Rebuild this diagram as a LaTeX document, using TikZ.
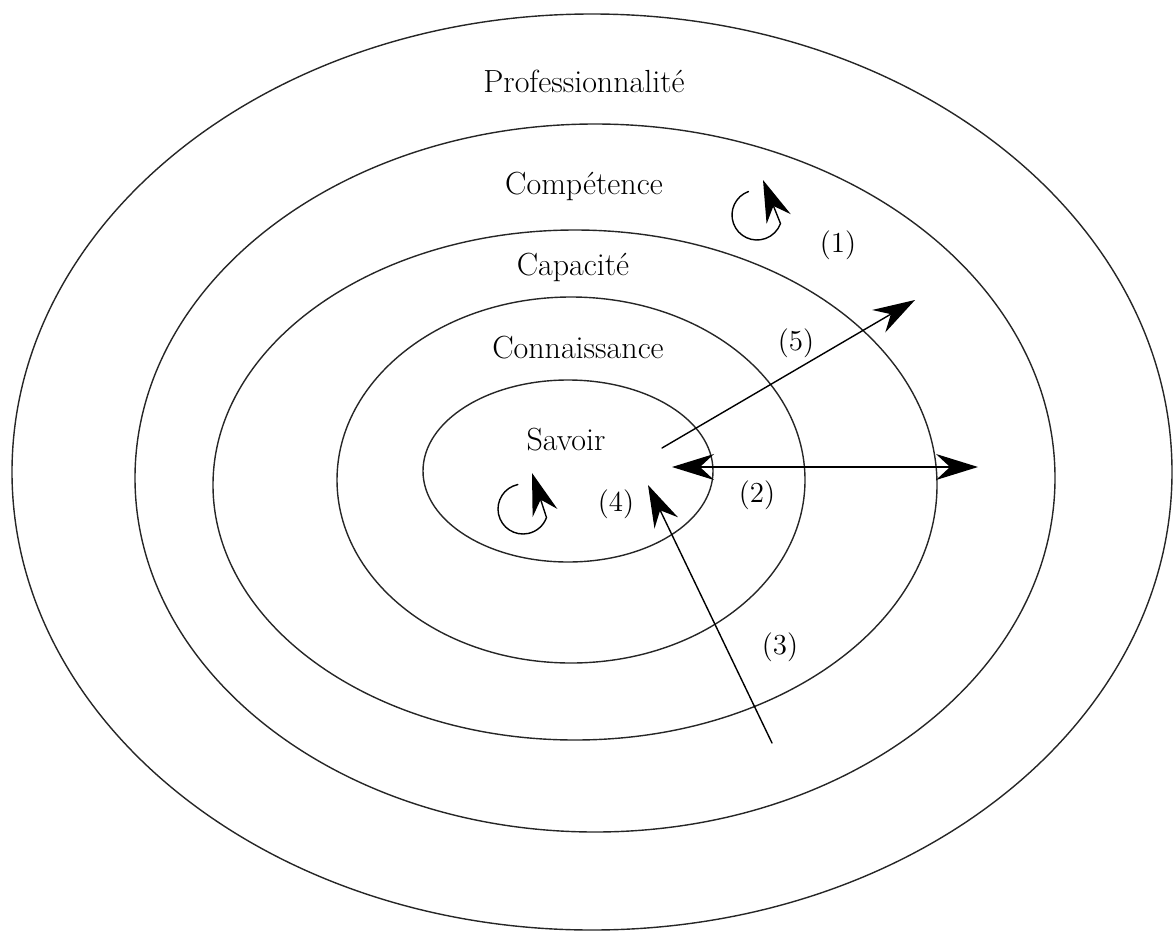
\documentclass[tikz,border=0pt]{standalone}
\usepackage{tikz}
\usetikzlibrary{
    arrows.meta, % Stealth heads on the arrows.
}

\begin{document}
\begin{tikzpicture}[%
        x = 0.5pt,
        y = 0.5pt,
        line width = 0.7pt,
        line cap = round,
        > = {Stealth[length = 21pt, width = 13pt, inset = 7pt]},
        level/.style = {font = \fontsize{16}{19}\selectfont, anchor = base, inner sep = 0pt},
        tag/.style = {font = \fontsize{14.5}{17}\selectfont, anchor = base, inner sep = 0pt}
    ]

        % Fix the page to the size of the figure.
        \useasboundingbox (0, 0) rectangle (1176, -931);

        % Draw in the nested ellipses, outside first.
        \draw[black!85] (592, -472) ellipse [x radius = 580, y radius = 458];
        \draw[black!85] (595, -478) ellipse [x radius = 460, y radius = 354];
        \draw[black!85] (575, -485) ellipse [x radius = 362, y radius = 255];
        \draw[black!85] (571, -480) ellipse [x radius = 234, y radius = 183];
        \draw[black!85] (568, -471) ellipse [x radius = 145, y radius = 91];

        % Label each of the rings.
        \node[level] (prof) at (584, -93) {Professionnalité};
        \node[level] (comp) at (584, -194) {Compétence};
        \node[level] (capa) at (573, -275) {Capacité};
        \node[level] (conn) at (578, -358) {Connaissance};
        \node[level] (sav) at (566, -450) {Savoir};

        % Label the arrows.
        \node[tag] (t1) at (838, -252) {(1)};
        \node[tag] (t2) at (757, -502) {(2)};
        \node[tag] (t3) at (780, -654) {(3)};
        \node[tag] (t4) at (616, -511) {(4)};
        \node[tag] (t5) at (796, -350) {(5)};

        % Coordinates for the ends of the arrows.
        \coordinate (A) at (662, -448);
        \coordinate (B) at (915, -300);
        \coordinate (C) at (672, -467);
        \coordinate (D) at (978, -467);
        \coordinate (E) at (772, -743);
        \coordinate (F) at (648, -485);
        \coordinate (G) at (763, -180);
        \coordinate (H) at (532, -473);

        % Draw in the straight arrows.
        \draw[->] (A) to (B);
        \draw[<->] (C) to (D);
        \draw[->] (E) to (F);

        % Draw in the two loops.
        \draw[->] (757, -215) ++(110:25) arc [start angle = 110, end angle = 340, radius = 25] -- (G);
        \draw[->] (523, -509) ++(102:25) arc [start angle = 102, end angle = 340, radius = 25] -- (H);
    \end{tikzpicture}
\end{document}
